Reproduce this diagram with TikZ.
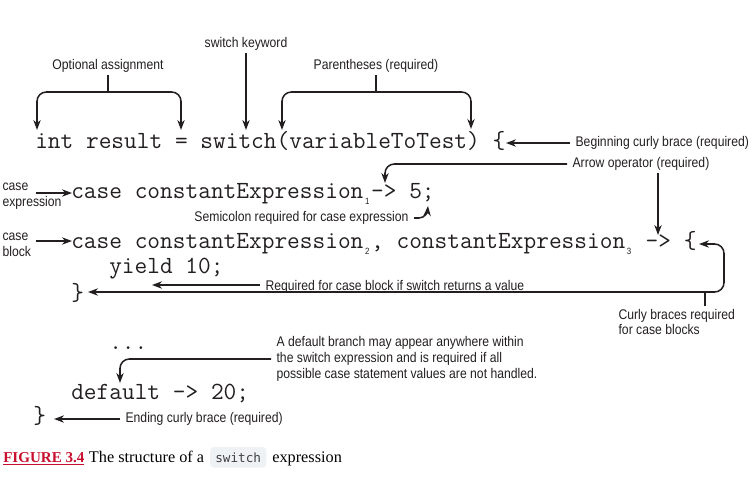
\documentclass[tikz,border=0pt]{standalone}
\usepackage{fontspec}
\setmainfont{Liberation Serif}
\setsansfont[FakeStretch=0.87]{Liberation Sans}
\newfontfamily\capmono{DejaVu Sans Mono}
\usetikzlibrary{arrows.meta, positioning, calc}
\definecolor{figred}{RGB}{200,16,46}
\definecolor{codebg}{RGB}{238,242,245}
\definecolor{ink}{RGB}{35,31,32}
\newcommand\csub[1]{\kern1.2pt\raisebox{-5pt}{\sffamily\fontsize{6.8}{7}\selectfont#1}\kern1.3pt\relax}
\tikzset{
  code/.style={anchor=base west, inner sep=0pt, text=ink, font=\ttfamily\fontsize{18.5}{20}\selectfont},
  note/.style={inner xsep=4pt, inner ysep=2pt, text=ink, align=left, font=\sffamily\fontsize{10.5}{11.8}\selectfont},
  link/.style={draw=ink, line width=1.15pt},
  pointer/.style={link, -{Stealth[length=7.5pt,width=5.5pt]}},
  bracket/.style={link, {Stealth[length=7.5pt,width=5.5pt]}-{Stealth[length=7.5pt,width=5.5pt]}, rounded corners=7pt},
  capfont/.style={anchor=base west, inner sep=0pt, font=\fontsize{12.2}{15}\selectfont},
}
\begin{document}
\begin{tikzpicture}[x=0.75pt, y=-0.75pt]
    \useasboundingbox (0,0) rectangle (755,483);

    % the code
    \node[code] (line1) at (35,148) {int result = switch(variableToTest) \{};
    \node[code] (line2) at (71,198) {case constantExpression\csub{1}-> 5;};
    \node[code] (line3) at (71,248) {case constantExpression\csub{2}, constantExpression\csub{3} -> \{};
    \node[code] (line4) at (109,273) {yield 10;};
    \node[code] (line5) at (71,300) {\}};
    \node[code] (dots) at (109,349) {...};
    \node[code] (line6) at (71,399) {default -> 20;};
    \node[code] (line7) at (33,423) {\}};

    % labels
    \node[note] (kw) at (246,44) {switch keyword};
    \node[note] (opt) at (108,66) {Optional assignment};
    \node[note] (paren) at (376,66) {Parentheses (required)};
    \node[note, anchor=west] (begin) at (570,143) {Beginning curly brace (required)};
    \node[note, anchor=west] (arrowop) at (567,164) {Arrow operator (required)};
    \node[note, anchor=west] (caseexpr) at (-3,196) {case\\expression};
    \node[note, anchor=west] (caseblk) at (-3,245) {case\\block};
    \node[note, anchor=east] (semi) at (414,218) {Semicolon required for case expression};
    \node[note, anchor=west] (yieldnote) at (260,287) {Required for case block if switch returns a value};
    \node[note, anchor=north west] (curly) at (613,306) {Curly braces required\\for case blocks};
    \node[note, anchor=west] (dflt) at (271,359) {A default branch may appear anywhere within\\the switch expression and is required if all\\possible case statement values are not handled.};
    \node[note, anchor=west] (ending) at (120,419) {Ending curly brace (required)};

    % arrow ends
    \coordinate (kwTip) at (246,130);
    \coordinate (intTip) at (37,130);
    \coordinate (eqTip) at (181,130);
    \coordinate (optBar) at (108,92);
    \coordinate (lparTip) at (282,130);
    \coordinate (rparTip) at (471,129);
    \coordinate (parBar) at (376,92);
    \coordinate (lbraceA) at (506,143);
    \coordinate (arrowTipA) at (385,183);
    \coordinate (arrowTipB) at (658,235);
    \coordinate (semiTip) at (428,206);
    \coordinate (caseTipA) at (72,193);
    \coordinate (caseTipB) at (72,241);
    \coordinate (caseFromA) at ($(caseexpr.west |- caseTipA)+(39,0)$);
    \coordinate (caseFromB) at ($(caseblk.west |- caseTipB)+(39,0)$);
    \coordinate (yieldTip) at (152,285);
    \coordinate (rbraceA) at (88,292);
    \coordinate (lbraceB) at (699,244);
    \coordinate (curlyCorner) at (724,244);
    \coordinate (curlyStem) at (705,292);
    \coordinate (dfltTip) at (120,383);
    \coordinate (rbraceB) at (54,419);

    % connectors
    \draw[pointer] (kw) -- (kwTip);
    \draw[link] (opt) -- (optBar);
    \draw[bracket] (intTip) |- (optBar) -| (eqTip);
    \draw[link] (paren) -- (parBar);
    \draw[bracket] (lparTip) |- (parBar) -| (rparTip);
    \draw[pointer] (begin.west) -- (lbraceA);
    \draw[pointer, rounded corners=7pt] (arrowop.west) -| (arrowTipA);
    \draw[pointer] (arrowop.south -| arrowTipB) -- (arrowTipB);
    \draw[pointer] (semi.east) -- ++(5,0) to[out=0, in=-95] (semiTip);
    \draw[pointer] (caseFromA) -- (caseTipA);
    \draw[pointer] (caseFromB) -- (caseTipB);
    \draw[pointer] (yieldnote.west |- yieldTip) -- (yieldTip);
    \draw[bracket] (rbraceA) -| (curlyCorner) -- (lbraceB);
    \draw[link] (curly.north -| curlyStem) -- (curlyStem);
    \draw[pointer, rounded corners=7pt] (dflt.west) -| (dfltTip);
    \draw[pointer] (ending.west) -- (rbraceB);

    % caption
    \node[capfont, text=figred, font=\fontsize{11.3}{15}\selectfont] (capnum) at (3,462) {\textbf{\underline{FIGURE 3.4}}};
    \node[capfont, right=3pt of capnum.base east, anchor=base west] (captext) {The structure of a};
    \node[capfont, right=4pt of captext.base east, anchor=base west, fill=codebg, rounded corners=3pt,
          inner xsep=4pt, inner ysep=4pt, text=black!75, font=\capmono\fontsize{9.5}{11}\selectfont] (capcode) {switch};
    \node[capfont, right=4pt of capcode.base east, anchor=base west] (capend) {expression};
\end{tikzpicture}
\end{document}
